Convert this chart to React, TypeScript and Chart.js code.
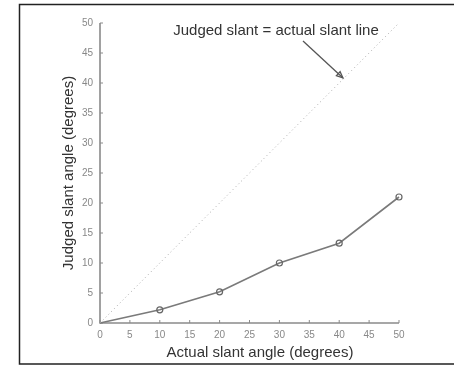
import React, { useEffect, useRef } from "react";
import { Chart, registerables } from "chart.js";

Chart.register(...registerables);

const actualAngles = [0, 10, 20, 30, 40, 50];
const judgedAngles = [0, 2.2, 5.2, 10.0, 13.3, 21.0];
const identityX = [0, 50];
const identityY = [0, 50];
const tickValues = [0, 5, 10, 15, 20, 25, 30, 35, 40, 45, 50];
const annotationText = "Judged slant = actual slant line";
const xTitle = "Actual slant angle (degrees)";
const yTitle = "Judged slant angle (degrees)";

const FONT = "'Liberation Sans', Arial, sans-serif";

export default function App() {
  const ref = useRef<HTMLCanvasElement | null>(null);

  useEffect(() => {
    if (!ref.current) return;
    const framePlugin = {
      id: "frameAndExtras",
      beforeDatasetsDraw(chart: any) {
        const ctx = chart.ctx;
        const xs = chart.scales.x;
        const ys = chart.scales.y;
        ctx.save();
        // frame
        ctx.strokeStyle = "#222";
        ctx.lineWidth = 1.5;
        ctx.beginPath();
        ctx.moveTo(454, 4.5);
        ctx.lineTo(19.5, 4.5);
        ctx.lineTo(19.5, 364);
        ctx.lineTo(454, 364);
        ctx.stroke();
        // axis lines
        ctx.strokeStyle = "#8a8a8a";
        ctx.lineWidth = 1.6;
        const x0 = xs.getPixelForValue(0);
        const x50 = xs.getPixelForValue(50);
        const y0 = ys.getPixelForValue(0);
        const y50 = ys.getPixelForValue(50);
        ctx.beginPath();
        ctx.moveTo(x0, y50);
        ctx.lineTo(x0, y0);
        ctx.lineTo(x50, y0);
        ctx.stroke();
        // inward ticks
        ctx.lineWidth = 1;
        tickValues.forEach((v) => {
          const px = xs.getPixelForValue(v);
          const py = ys.getPixelForValue(v);
          ctx.beginPath();
          ctx.moveTo(px, y0);
          ctx.lineTo(px, y0 - 3);
          ctx.moveTo(x0, py);
          ctx.lineTo(x0 + 3, py);
          ctx.stroke();
        });
        // x title
        ctx.fillStyle = "#333";
        ctx.font = `15px ${FONT}`;
        ctx.textAlign = "center";
        ctx.textBaseline = "middle";
        ctx.fillText(xTitle, 260, 353);
        // annotation
        ctx.fillText(annotationText, 276, 31);
        // arrow
        const ax = 303, ay = 41, bx = 343, by = 78;
        ctx.strokeStyle = "#555";
        ctx.lineWidth = 1.3;
        ctx.beginPath();
        ctx.moveTo(ax, ay);
        ctx.lineTo(bx, by);
        ctx.stroke();
        const ang = Math.atan2(by - ay, bx - ax);
        const hl = 7;
        ctx.beginPath();
        ctx.moveTo(bx, by);
        ctx.lineTo(bx - hl * Math.cos(ang - 0.4), by - hl * Math.sin(ang - 0.4));
        ctx.lineTo(bx - hl * Math.cos(ang + 0.4), by - hl * Math.sin(ang + 0.4));
        ctx.closePath();
        ctx.stroke();
        ctx.restore();
      },
    };

    const chart = new Chart(ref.current, {
      type: "scatter",
      data: {
        datasets: [
          {
            data: identityX.map((x, i) => ({ x, y: identityY[i] })),
            showLine: true,
            borderColor: "#aaaaaa",
            borderWidth: 1,
            borderDash: [1, 3],
            pointRadius: 0,
            clip: false,
          },
          {
            data: actualAngles.map((x, i) => ({ x, y: judgedAngles[i] })),
            showLine: true,
            borderColor: "#7a7a7a",
            borderWidth: 1.6,
            pointRadius: actualAngles.map((x) => (x === 0 ? 0 : 3)),
            pointBorderWidth: 1.2,
            pointBorderColor: "#666",
            pointBackgroundColor: "rgba(0,0,0,0)",
            clip: false,
          },
        ],
      },
      options: {
        animation: false,
        responsive: false,
        events: [],
        layout: { padding: { left: 56, right: 55, top: 23, bottom: 0 } },
        plugins: { legend: { display: false }, tooltip: { enabled: false } },
        scales: {
          x: {
            type: "linear",
            min: 0,
            max: 50,
            border: { display: false },
            grid: { display: false, drawTicks: false },
            ticks: {
              stepSize: 5,
              color: "#888",
              padding: 6,
              font: { family: FONT, size: 10 },
            },
            title: { display: false, text: xTitle },
            afterFit: (s: any) => {
              s.height = 42;
            },
          },
          y: {
            type: "linear",
            min: 0,
            max: 50,
            border: { display: false },
            grid: { display: false, drawTicks: false },
            ticks: {
              stepSize: 5,
              color: "#888",
              padding: 7,
              font: { family: FONT, size: 10 },
            },
            title: {
              display: true,
              text: yTitle,
              color: "#333",
              font: { family: FONT, size: 15 },
              padding: { top: 4, bottom: 0 },
            },
            afterFit: (s: any) => {
              s.width = 44;
            },
          },
        },
      },
      plugins: [framePlugin],
    });
    return () => chart.destroy();
  }, []);

  return (
    <div style={{ position: "fixed", left: 0, top: 0, width: 454, height: 365, background: "#fff" }}>
      <canvas ref={ref} width={454} height={365} />
    </div>
  );
}
